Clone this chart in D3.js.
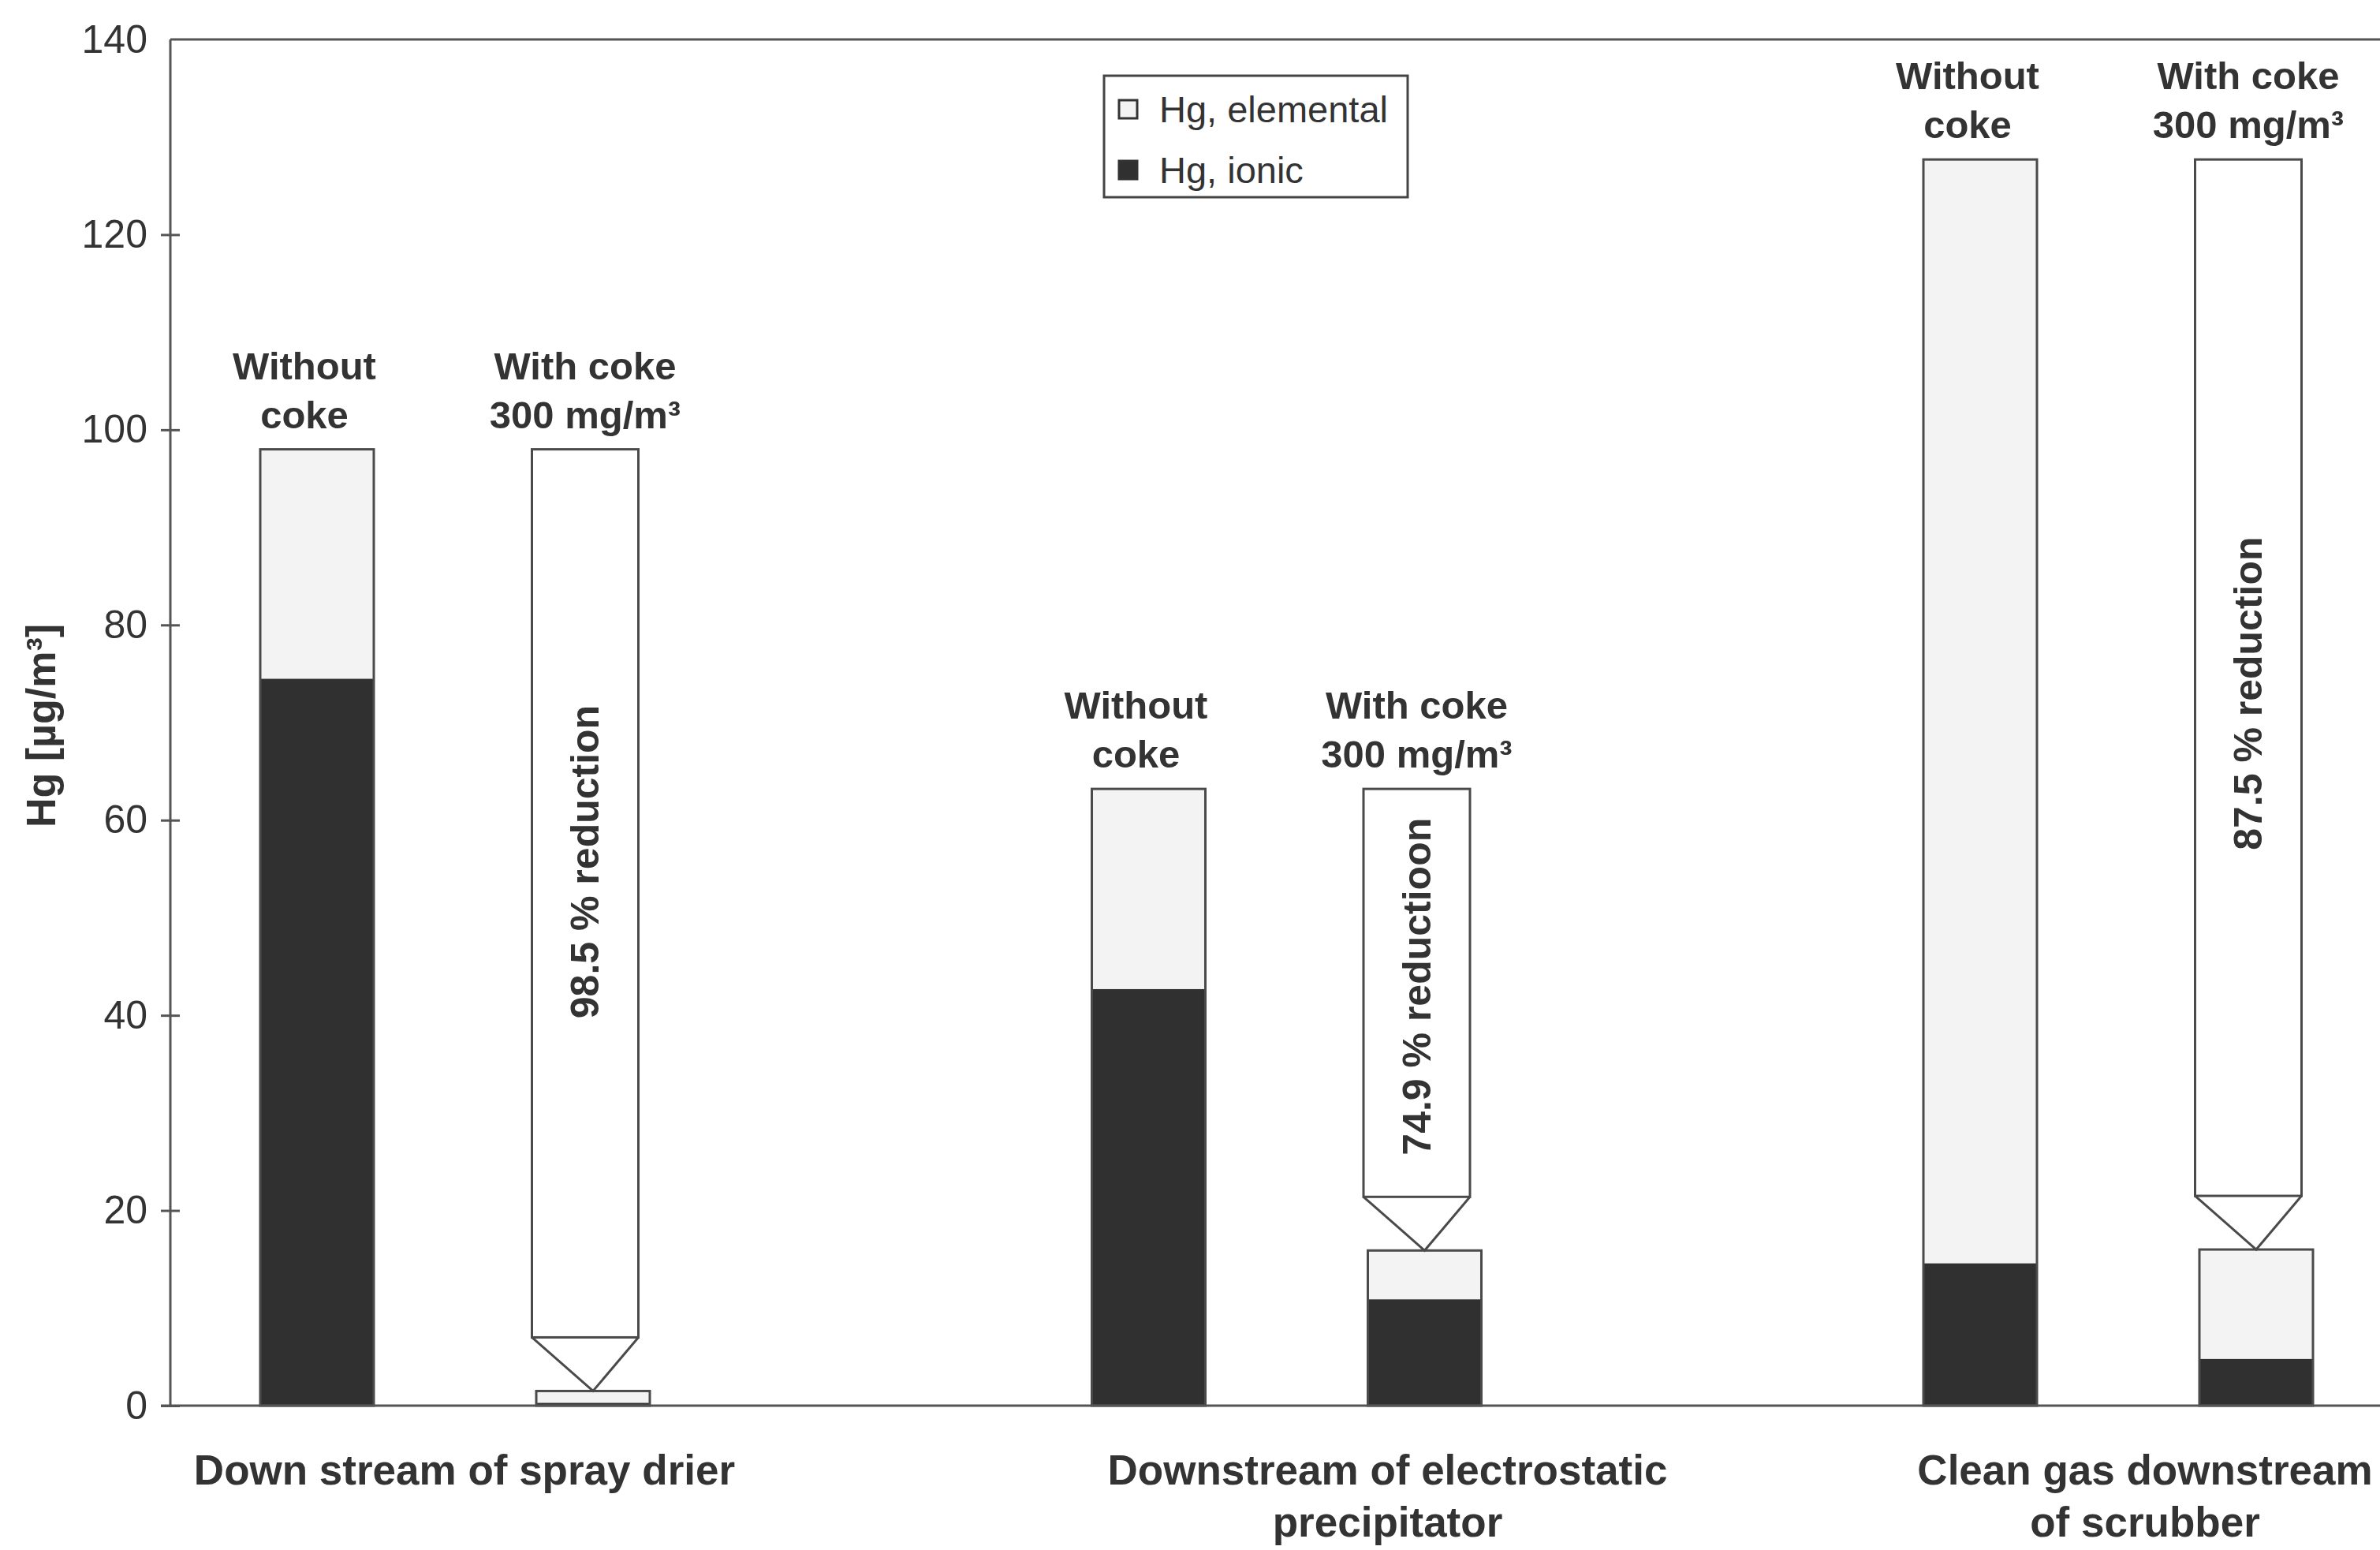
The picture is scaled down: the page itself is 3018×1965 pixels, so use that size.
<!DOCTYPE html>
<html>
<head>
<meta charset="utf-8">
<script src="https://cdn.jsdelivr.net/npm/d3@7"></script>
<style>
  html, body { margin: 0; padding: 0; background: #ffffff; }
  svg { display: block; }
  text { font-family: "Liberation Sans", Arial, Helvetica, sans-serif; fill: #333333; }
</style>
</head>
<body>
<script>
// ---------------- DATA ----------------
const groups = ["Down stream of spray drier", "Downstream of electrostatic precipitator", "Clean gas downstream of scrubber"];
const groupLabelLines = [["Down stream of spray drier"], ["Downstream of electrostatic", "precipitator"], ["Clean gas downstream", "of scrubber"]];
const conditions = ["Without coke", "With coke 300 mg/m³"];
const conditionLabelLines = [["Without", "coke"], ["With coke", "300 mg/m³"]];
const series = ["Hg, elemental", "Hg, ionic"];
const ionicWithout = [74.5, 42.7, 14.6];
const elementalWithout = [23.5, 20.5, 113.1];
const ionicWith = [0.3, 10.9, 4.8];
const elementalWith = [1.2, 5.0, 11.2];
const reductionLabels = ["98.5 % reduction", "74.9 % reductioon", "87.5 % reduction"];
const yTicks = [0, 20, 40, 60, 80, 100, 120, 140];
const yTitle = "Hg [µg/m³]";

// ---------------- LAYOUT ----------------
const W = 3018, H = 1965;
const axisX = 216, plotRight = 3018;
const yTop = 50, yBottom = 1782;
const barW = 144, ghostW = 135, ghostShift = -10, triH = 68;
const labelShift = [12, 128, 34];
const reductionShift = [-40, -8, 20];
const colors = { "Hg, elemental": "#f3f3f3", "Hg, ionic": "#303030" };
const strokeCol = "#4a4a4a";

const svg = d3.select("body").append("svg").attr("width", W).attr("height", H);
svg.append("rect").attr("width", W).attr("height", H).attr("fill", "#ffffff");

const y = d3.scaleLinear().domain([0, 140]).range([yBottom, yTop]);
const xGroup = d3.scalePoint().domain(groups).range([577, 2686]);
const xCond = d3.scalePoint().domain(conditions).range([-175, 175]);

// frame: top line
svg.append("line").attr("x1", axisX).attr("x2", plotRight).attr("y1", y(140)).attr("y2", y(140))
  .attr("stroke", "#555").attr("stroke-width", 3);

// y axis
const yAxis = d3.axisLeft(y).tickValues(yTicks).tickSize(12).tickPadding(17).tickFormat(d3.format("d"));
const gy = svg.append("g").attr("transform", `translate(${axisX},0)`).call(yAxis);
gy.select(".domain").attr("stroke", "#555").attr("stroke-width", 3).attr("d", `M0,${yTop}V${yBottom}`);
gy.selectAll(".tick line").attr("x1", -12).attr("x2", 12).attr("stroke", "#555").attr("stroke-width", 3);
gy.selectAll(".tick text").style("font-size", "50px").style("font-family", '"Liberation Sans", Arial, sans-serif').attr("fill", "#333");
gy.selectAll(".tick").filter(d => d === 140).select("line").remove();

// y title
svg.append("text")
  .attr("transform", `translate(70, ${(yTop + yBottom) / 2 + 4}) rotate(-90)`)
  .attr("text-anchor", "middle")
  .style("font-size", "52px").style("font-weight", "bold")
  .text(yTitle);

// ---------------- BARS ----------------
groups.forEach((g, i) => {
  const stacks = [
    { cond: conditions[0], ionic: ionicWithout[i], elemental: elementalWithout[i] },
    { cond: conditions[1], ionic: ionicWith[i], elemental: elementalWith[i] }
  ];
  const gx = xGroup(g);
  stacks.forEach(s => {
    const cx = gx + xCond(s.cond);
    const x0 = cx - barW / 2;
    svg.append("rect").attr("x", x0).attr("width", barW)
      .attr("y", y(s.ionic)).attr("height", y(0) - y(s.ionic))
      .attr("fill", colors["Hg, ionic"]);
    svg.append("rect").attr("x", x0).attr("width", barW)
      .attr("y", y(s.ionic + s.elemental)).attr("height", y(s.ionic) - y(s.ionic + s.elemental))
      .attr("fill", colors["Hg, elemental"]);
    svg.append("rect").attr("x", x0).attr("width", barW)
      .attr("y", y(s.ionic + s.elemental)).attr("height", y(0) - y(s.ionic + s.elemental))
      .attr("fill", "none").attr("stroke", strokeCol).attr("stroke-width", 3);
  });

  // ghost outline at "with coke" position: original level + reduction arrow
  const totalBefore = ionicWithout[i] + elementalWithout[i];
  const totalAfter = ionicWith[i] + elementalWith[i];
  const wcx = gx + xCond(conditions[1]);
  const gcx = wcx + ghostShift;
  const yPoint = y(totalAfter);
  const yRectBottom = yPoint - triH;
  svg.append("rect").attr("x", gcx - ghostW / 2).attr("width", ghostW)
    .attr("y", y(totalBefore)).attr("height", yRectBottom - y(totalBefore))
    .attr("fill", "#ffffff").attr("stroke", strokeCol).attr("stroke-width", 3);
  svg.append("path")
    .attr("d", `M${gcx - ghostW / 2},${yRectBottom}L${wcx},${yPoint}L${gcx + ghostW / 2},${yRectBottom}`)
    .attr("fill", "none").attr("stroke", strokeCol).attr("stroke-width", 3);
  svg.append("text")
    .attr("transform", `translate(${gcx + 17}, ${(y(totalBefore) + yRectBottom) / 2 + reductionShift[i]}) rotate(-90)`)
    .attr("text-anchor", "middle")
    .style("font-size", "50px").style("font-weight", "bold")
    .text(reductionLabels[i]);

  // condition labels above bars
  conditions.forEach((c, k) => {
    const cx = gx + xCond(c) + (k === 0 ? -16 : -10);
    const lines = conditionLabelLines[k];
    const base = y(totalBefore) - 27;
    lines.forEach((ln, j) => {
      svg.append("text")
        .attr("x", cx).attr("y", base - (lines.length - 1 - j) * 62)
        .attr("text-anchor", "middle")
        .style("font-size", "49px").style("font-weight", "bold")
        .text(ln);
    });
  });

  // category labels
  groupLabelLines[i].forEach((ln, j) => {
    svg.append("text")
      .attr("x", gx + labelShift[i]).attr("y", 1882 + j * 66)
      .attr("text-anchor", "middle")
      .style("font-size", "53px").style("font-weight", "bold")
      .text(ln);
  });
});

// baseline
svg.append("line").attr("x1", axisX - 12).attr("x2", plotRight).attr("y1", y(0)).attr("y2", y(0))
  .attr("stroke", "#555").attr("stroke-width", 3);

// ---------------- LEGEND ----------------
const lg = svg.append("g").attr("transform", "translate(1400,96)");
lg.append("rect").attr("width", 385).attr("height", 154)
  .attr("fill", "#ffffff").attr("stroke", "#444").attr("stroke-width", 3);
series.forEach((s, i) => {
  const cy = 43 + i * 77;
  lg.append("rect").attr("x", 19).attr("y", cy - 12).attr("width", 23).attr("height", 23)
    .attr("fill", colors[s]).attr("stroke", "#333").attr("stroke-width", 3);
  lg.append("text").attr("x", 70).attr("y", cy + 16)
    .style("font-size", "47px").text(s);
});
</script>
</body>
</html>
